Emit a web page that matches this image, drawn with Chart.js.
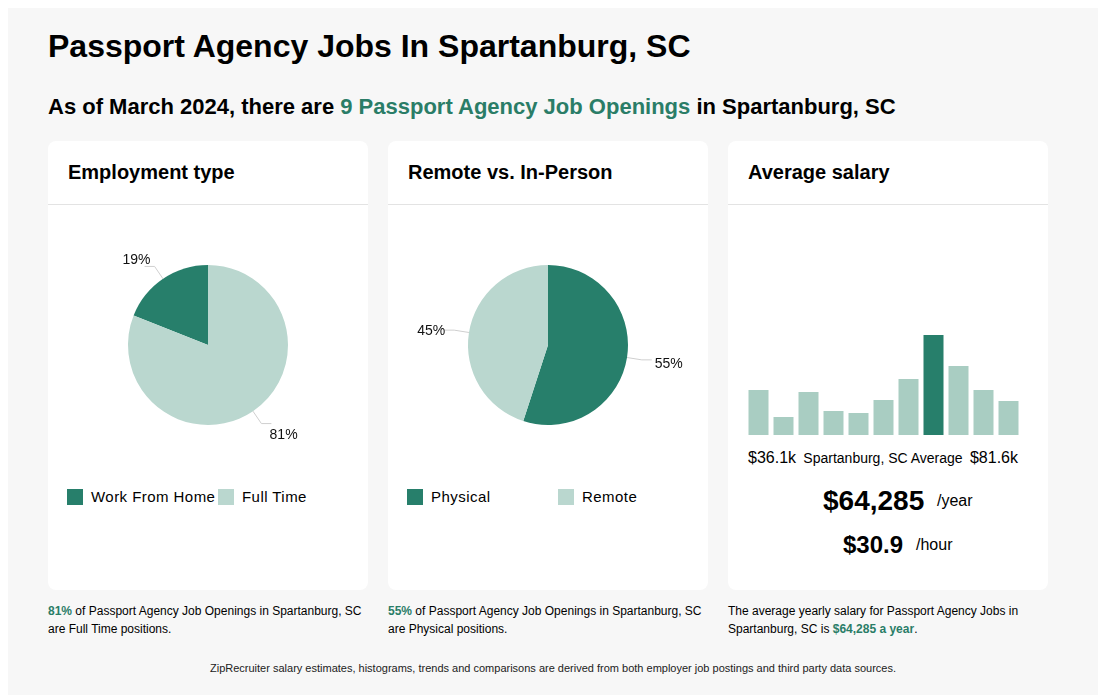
<!DOCTYPE html>
<html>
<head>
<meta charset="utf-8">
<script src="https://cdn.jsdelivr.net/npm/chart.js@4.4.1/dist/chart.umd.min.js"></script>
<style>
  body { margin: 0; background: #fff; font-family: "Liberation Sans", Arial, sans-serif; color: #000; }
  #page { position: absolute; left: 8px; top: 8px; width: 1090px; height: 687px; background: #f7f7f7; }
  .abs { position: absolute; white-space: nowrap; }
  .card { position: absolute; top: 133px; width: 320px; height: 449px; background: #fff; border-radius: 8px; }
  .card h3 { position: absolute; left: 20px; top: 19px; margin: 0; font-size: 20px; line-height: 24px; font-weight: bold; }
  .card .rule { position: absolute; left: 0; right: 0; top: 63px; height: 1px; background: #e3e3e3; }
  .green { color: #2a7d67; }
  .legend { position: absolute; top: 347px; left: 19px; display: flex; }
  .legend .item { width: 151px; flex: none; display: flex; align-items: center; font-size: 15px; letter-spacing: 0.45px; white-space: nowrap; }
  .legend .sw { width: 16px; height: 16px; margin-right: 8px; flex: none; }
  .foot { position: absolute; top: 594px; width: 330px; font-size: 12px; line-height: 18px; }
</style>
</head>
<body>
<div id="page">
  <div class="abs" style="left:40px;top:20px;font-size:32px;line-height:36px;font-weight:bold;">Passport Agency Jobs In Spartanburg, SC</div>
  <div class="abs" style="left:40px;top:86px;font-size:22px;line-height:26px;font-weight:bold;">As of March 2024, there are <span class="green">9 Passport Agency Job Openings</span> in Spartanburg, SC</div>

  <div class="card" style="left:40px;">
    <h3>Employment type</h3><div class="rule"></div>
    <canvas id="pie1" width="320" height="280" style="position:absolute;left:0;top:64px;"></canvas>
    <div class="legend" id="leg1"></div>
  </div>
  <div class="card" style="left:380px;">
    <h3>Remote vs. In-Person</h3><div class="rule"></div>
    <canvas id="pie2" width="320" height="280" style="position:absolute;left:0;top:64px;"></canvas>
    <div class="legend" id="leg2"></div>
  </div>
  <div class="card" style="left:720px;">
    <h3>Average salary</h3><div class="rule"></div>
    <canvas id="hist" width="275" height="120" style="position:absolute;left:17.5px;top:174px;"></canvas>
    <div class="abs" style="left:20px;top:307px;font-size:16px;line-height:20px;">$36.1k</div>
    <div class="abs" style="left:0;width:310px;text-align:center;top:307px;font-size:14px;line-height:20px;">Spartanburg, SC Average</div>
    <div class="abs" style="right:30px;top:307px;font-size:16px;line-height:20px;">$81.6k</div>
    <div class="abs" style="left:95px;top:343px;font-size:28px;line-height:34px;font-weight:bold;">$64,285</div>
    <div class="abs" style="left:209px;top:350px;font-size:16px;line-height:20px;">/year</div>
    <div class="abs" style="left:115px;top:389px;font-size:24px;line-height:30px;font-weight:bold;">$30.9</div>
    <div class="abs" style="left:188px;top:394px;font-size:16px;line-height:20px;">/hour</div>
  </div>

  <div class="foot" style="left:40px;"><span class="green" style="font-weight:bold;">81%</span> of Passport Agency Job Openings in Spartanburg, SC are Full Time positions.</div>
  <div class="foot" style="left:380px;"><span class="green" style="font-weight:bold;">55%</span> of Passport Agency Job Openings in Spartanburg, SC are Physical positions.</div>
  <div class="foot" style="left:720px;width:310px;">The average yearly salary for Passport Agency Jobs in Spartanburg, SC is <span class="green" style="font-weight:bold;">$64,285 a year</span>.</div>

  <div class="abs" style="left:0;width:1090px;text-align:center;top:653px;font-size:11px;line-height:14px;color:#222;">ZipRecruiter salary estimates, histograms, trends and comparisons are derived from both employer job postings and third party data sources.</div>
</div>

<script>
  // ── Data ───────────────────────────────────────────────────────────────
  const employmentLabels = ['Work From Home', 'Full Time'];
  const employmentValues = [19, 81];

  const remoteLabels = ['Physical', 'Remote'];
  const remoteValues = [55, 45];

  const salaryBins = ['b1', 'b2', 'b3', 'b4', 'b5', 'b6', 'b7', 'b8', 'b9', 'b10', 'b11'];
  const salaryCounts = [45, 18, 43, 24, 22, 35, 56, 100, 69, 45, 34];
  const averageBin = 7;

  const DARK = '#277f6b';
  const PIE_LIGHT = '#bad7cf';
  const BAR_LIGHT = '#a9cdc2';

  // ── Outside labels with leader lines ───────────────────────────────────
  const pieLabels = {
    id: 'pieLabels',
    afterDatasetsDraw(chart) {
      const ctx = chart.ctx;
      const meta = chart.getDatasetMeta(0);
      const values = chart.data.datasets[0].data;
      ctx.save();
      ctx.font = '14px "Liberation Sans", Arial, sans-serif';
      ctx.fillStyle = '#111';
      ctx.strokeStyle = '#cfcfcf';
      ctx.lineWidth = 1;
      meta.data.forEach((arc, i) => {
        const mid = (arc.startAngle + arc.endAngle) / 2;
        const dx = Math.cos(mid), dy = Math.sin(mid);
        const r = arc.outerRadius;
        const side = dx >= 0 ? 1 : -1;
        const ex = arc.x + dx * (r + 15), ey = arc.y + dy * (r + 15);
        ctx.beginPath();
        ctx.moveTo(arc.x + dx * r, arc.y + dy * r);
        ctx.lineTo(ex, ey);
        ctx.lineTo(ex + side * 10, ey);
        ctx.stroke();
        ctx.textAlign = side > 0 ? 'left' : 'right';
        ctx.textBaseline = 'middle';
        ctx.fillText(values[i] + '%', ex + dx * 11 + 2, ey + dy * 11 + 2.5);
      });
      ctx.restore();
    },
  };

  const makePie = (id, labels, values, colors, rotation) => new Chart(document.getElementById(id), {
    type: 'pie',
    data: { labels, datasets: [{ data: values, backgroundColor: colors, borderWidth: 0 }] },
    options: {
      responsive: false,
      animation: false,
      rotation,
      layout: { padding: { top: 60, bottom: 60, left: 80, right: 80 } },
      plugins: { legend: { display: false }, tooltip: { enabled: false } },
    },
    plugins: [pieLabels],
  });

  const buildLegend = (elId, labels, colors) => {
    document.getElementById(elId).innerHTML = labels.map((l, i) =>
      `<div class="item"><span class="sw" style="background:${colors[i]}"></span>${l}</div>`).join('');
  };

  const pieColors = [DARK, PIE_LIGHT];
  makePie('pie1', employmentLabels, employmentValues, pieColors, -employmentValues[0] * 3.6);
  makePie('pie2', remoteLabels, remoteValues, pieColors, 0);
  buildLegend('leg1', employmentLabels, pieColors);
  buildLegend('leg2', remoteLabels, pieColors);

  // ── Salary histogram ───────────────────────────────────────────────────
  new Chart(document.getElementById('hist'), {
    type: 'bar',
    data: {
      labels: salaryBins,
      datasets: [{
        data: salaryCounts,
        backgroundColor: salaryCounts.map((_, i) => i === averageBin ? DARK : BAR_LIGHT),
        barPercentage: 0.8,
        categoryPercentage: 1,
      }],
    },
    options: {
      responsive: false,
      animation: false,
      layout: { padding: 0 },
      plugins: { legend: { display: false }, tooltip: { enabled: false } },
      scales: {
        x: { display: false, offset: true },
        y: { display: false, min: 0, max: 120 },
      },
    },
  });
</script>
</body>
</html>
